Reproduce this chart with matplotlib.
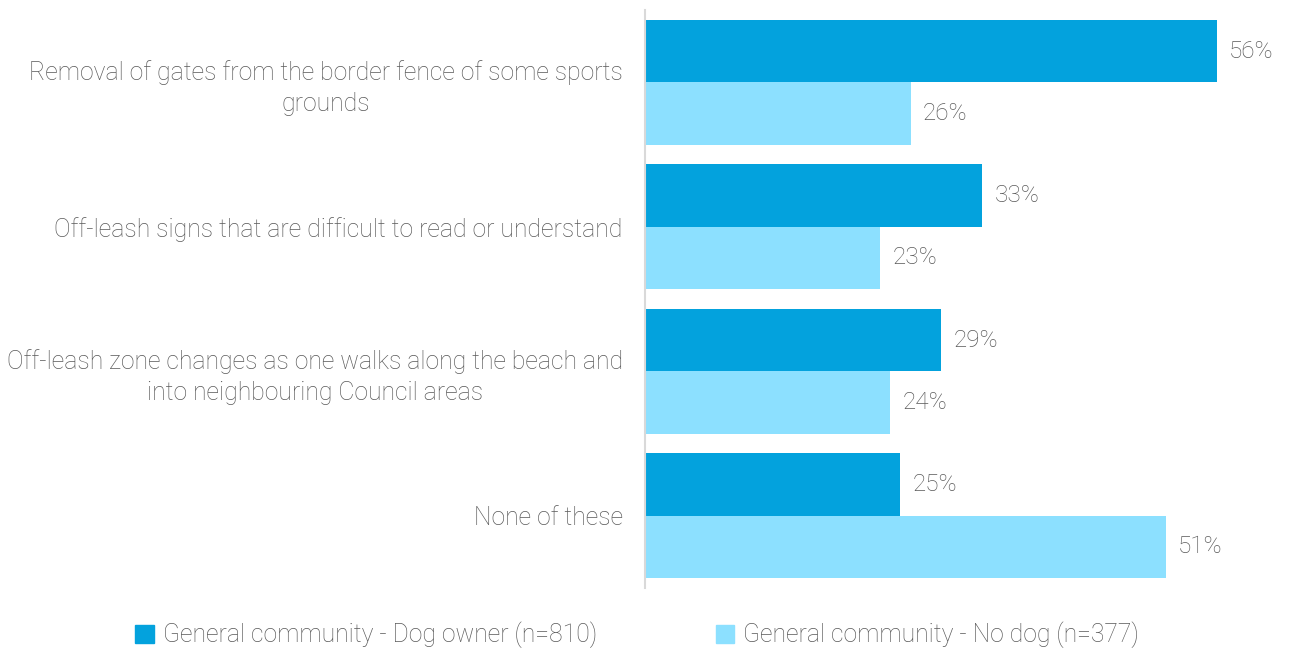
import matplotlib.pyplot as plt
import matplotlib.patches as mpatches
import numpy as np

categories = [
    "Removal of gates from the border fence of some sports\ngrounds",
    "Off-leash signs that are difficult to read or understand",
    "Off-leash zone changes as one walks along the beach and\ninto neighbouring Council areas",
    "None of these",
]
dog_owner = [56, 33, 29, 25]
no_dog = [26, 23, 24, 51]
series_names = ["General community - Dog owner (n=810)",
                "General community - No dog (n=377)"]

dark_blue = '#03a2dd'
light_blue = '#8ce0ff'
text_grey = '#595959'

plt.rcParams['font.family'] = ['Roboto', 'DejaVu Sans']
plt.rcParams['font.weight'] = 'light'

fig = plt.figure(figsize=(12.93, 6.5), dpi=100)
ax = fig.add_axes([645 / 1293, 62 / 650, 648 / 1293, 578 / 650])

y = np.arange(len(categories))
h = 0.4325
ax.barh(y - h / 2, dog_owner, height=h, color=dark_blue)
ax.barh(y + h / 2, no_dog, height=h, color=light_blue)

for yi, v in zip(y - h / 2, dog_owner):
    ax.text(v + 1.2, yi, f"{v}%", va='center', ha='left', fontsize=17.5,
            color=text_grey, fontweight='light')
for yi, v in zip(y + h / 2, no_dog):
    ax.text(v + 1.2, yi, f"{v}%", va='center', ha='left', fontsize=17.5,
            color=text_grey, fontweight='light')

ax.set_xlim(0, 648 / 1021.4 * 100)
ax.set_ylim(3.5, -0.5)
ax.set_yticks(y)
ax.set_yticklabels(categories, fontsize=17.8, color=text_grey,
                   fontweight='light', linespacing=1.35)
for lbl in ax.get_yticklabels():
    lbl.set_multialignment('center')
ax.tick_params(axis='y', length=0, pad=16)
ax.set_xticks([])
for s in ['top', 'right', 'bottom']:
    ax.spines[s].set_visible(False)
ax.spines['left'].set_color('#d9d9d9')
ax.spines['left'].set_linewidth(1.5)

handles = [mpatches.Patch(color=dark_blue), mpatches.Patch(color=light_blue)]
fig.legend(handles, series_names, loc='center', bbox_to_anchor=(637 / 1293, 1 - 635 / 650),
           ncol=2, frameon=False, fontsize=17.8, handlelength=0.75, handleheight=0.75,
           handletextpad=0.35, columnspacing=4.8, labelcolor=text_grey)

plt.savefig('out.png', dpi=100)
